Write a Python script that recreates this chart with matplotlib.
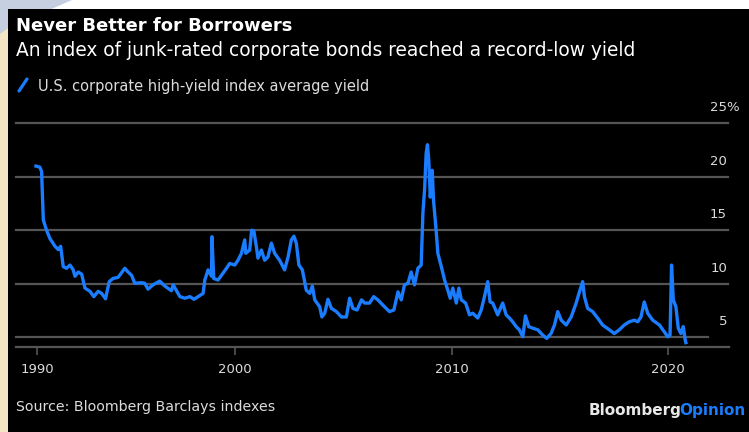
import matplotlib
matplotlib.use("Agg")
import matplotlib.pyplot as plt
from matplotlib.patches import Rectangle, Polygon

plt.rcParams['font.family'] = ['DejaVu Sans']

# ---- data ----
years = [1990.83, 1991.01, 1991.09, 1991.17, 1991.32, 1991.47, 1991.71, 1991.86, 1991.97,
         1992.09, 1992.24, 1992.40, 1992.55, 1992.63, 1992.78, 1992.94, 1993.09, 1993.32,
         1993.50, 1993.70, 1993.86, 1994.04, 1994.21, 1994.39, 1994.62, 1994.93, 1995.08,
         1995.24, 1995.39, 1995.71, 1995.85, 1996.00, 1996.23, 1996.54, 1996.77, 1997.08,
         1997.16, 1997.47, 1997.70, 1997.93, 1998.12, 1998.31, 1998.54, 1998.62, 1998.77,
         1998.93, 1998.95, 1999.03, 1999.23, 1999.39, 1999.62, 1999.77, 2000.00, 2000.15,
         2000.31, 2000.46, 2000.51, 2000.69, 2000.78, 2000.88, 2001.00, 2001.07, 2001.23,
         2001.38, 2001.53, 2001.69, 2001.84, 2002.07, 2002.30, 2002.46, 2002.61, 2002.73,
         2002.84, 2002.96, 2003.12, 2003.30, 2003.46, 2003.58, 2003.69, 2003.92, 2004.02,
         2004.15, 2004.30, 2004.46, 2004.69, 2004.92, 2005.15, 2005.30, 2005.45, 2005.64,
         2005.85, 2005.99, 2006.22, 2006.41, 2006.60, 2006.91, 2007.14, 2007.34, 2007.53,
         2007.68, 2007.83, 2007.99, 2008.14, 2008.29, 2008.45, 2008.60, 2008.68, 2008.76,
         2008.83, 2008.89, 2008.95, 2009.02, 2009.11, 2009.17, 2009.29, 2009.37, 2009.53,
         2009.68, 2009.83, 2009.94, 2010.06, 2010.22, 2010.34, 2010.45, 2010.65, 2010.83,
         2010.98, 2011.21, 2011.37, 2011.52, 2011.67, 2011.78, 2011.90, 2012.13, 2012.36,
         2012.52, 2012.67, 2012.82, 2012.98, 2013.13, 2013.29, 2013.41, 2013.56, 2013.75,
         2013.98, 2014.21, 2014.39, 2014.59, 2014.75, 2014.90, 2015.06, 2015.29, 2015.52,
         2015.75, 2015.90, 2016.05, 2016.13, 2016.28, 2016.51, 2016.74, 2016.97, 2017.28,
         2017.51, 2017.74, 2017.97, 2018.20, 2018.43, 2018.59, 2018.74, 2018.89, 2019.05,
         2019.28, 2019.59, 2019.82, 2019.97, 2020.08, 2020.15, 2020.23, 2020.35, 2020.46,
         2020.58, 2020.69, 2020.78, 2020.81]
yields = [21.0, 20.9, 20.5, 15.96, 15.0, 14.25, 13.5, 13.2, 13.5,
          11.6, 11.45, 11.75, 11.3, 10.7, 11.1, 10.9, 9.6, 9.3,
          8.8, 9.3, 9.1, 8.6, 10.2, 10.5, 10.6, 11.45, 11.1,
          10.8, 10.05, 10.1, 10.05, 9.5, 9.9, 10.25, 9.8, 9.35,
          9.9, 8.8, 8.65, 8.8, 8.55, 8.8, 9.1, 10.35, 11.3,
          10.7, 14.4, 10.5, 10.35, 10.8, 11.45, 11.9, 11.75, 12.2,
          12.85, 14.1, 12.85, 13.15, 15.0, 14.95, 13.45, 12.4, 13.15,
          12.2, 12.5, 13.8, 12.85, 12.2, 11.3, 12.5, 14.1, 14.45,
          13.8, 11.75, 11.3, 9.4, 9.1, 9.8, 8.5, 7.85, 6.9,
          7.25, 8.55, 7.7, 7.4, 6.9, 6.9, 8.65, 7.7, 7.55,
          8.5, 8.2, 8.2, 8.8, 8.5, 7.85, 7.4, 7.55, 9.25,
          8.5, 9.9, 10.05, 11.1, 9.9, 11.45, 11.75, 16.6, 18.9,
          22.2, 23.0, 21.6, 18.1, 20.6, 17.8, 15.0, 12.85, 11.6,
          10.35, 9.4, 8.65, 9.6, 8.2, 9.6, 8.5, 8.2, 7.1,
          7.25, 6.8, 7.55, 8.8, 10.2, 8.3, 8.2, 7.1, 8.2,
          7.1, 6.8, 6.45, 6.0, 5.7, 5.05, 7.0, 6.0, 5.85,
          5.7, 5.2, 4.9, 5.35, 6.15, 7.4, 6.6, 6.15, 6.9,
          8.2, 9.25, 10.2, 8.8, 7.7, 7.4, 6.8, 6.15, 5.7,
          5.35, 5.7, 6.15, 6.45, 6.6, 6.45, 6.9, 8.3, 7.25,
          6.6, 6.15, 5.5, 5.05, 5.2, 11.75, 8.5, 7.85, 5.85,
          5.35, 6.0, 4.75, 4.5]

y_ticks = [5, 10, 15, 20, 25]
x_tick_pos = [1990.88, 2000, 2010, 2020]
x_tick_labels = ['1990', '2000', '2010', '2020']

title = "Never Better for Borrowers"
subtitle = "An index of junk-rated corporate bonds reached a record-low yield"
legend_label = "U.S. corporate high-yield index average yield"
source = "Source: Bloomberg Barclays indexes"

BLUE = '#1a7cff'
GRID = '#555555'
TXT = '#dcdcdc'

W, H = 749, 432
fig = plt.figure(figsize=(W / 100, H / 100), dpi=100)
fig.patch.set_facecolor('white')

def fx(px):
    return px / W

def fy(py):
    return 1 - py / H

# surrounding frame bits
fig.patches.append(Rectangle((0, 0), fx(8), fy(9), transform=fig.transFigure,
                             facecolor='#f3e6c4', edgecolor='none', zorder=-10))
fig.patches.append(Polygon([(0, 1), (fx(72), 1), (fx(8), fy(28)), (0, fy(34))],
                           closed=True, transform=fig.transFigure,
                           facecolor='#c6cfdf', edgecolor='none', zorder=-10))
fig.patches.append(Rectangle((fx(8), 0), 1 - fx(8), fy(9), transform=fig.transFigure,
                             facecolor='black', edgecolor='none', zorder=-10))

# axes
left_px, right_px, top_px, bot_px = 16, 729, 123.3, 346.7
ax = fig.add_axes([fx(left_px), fy(bot_px), fx(right_px - left_px), (bot_px - top_px) / H])
ax.set_zorder(2)
ax.set_facecolor('none')
ax.set_xlim(1989.91, 2022.80)
ax.set_ylim(4.12, 25.0)

for s in ['top', 'right', 'left']:
    ax.spines[s].set_visible(False)
ax.spines['bottom'].set_color(GRID)
ax.spines['bottom'].set_linewidth(1.6)

for v in y_ticks:
    xmax = 0.97 if v == 5 else 0.999
    ax.axhline(v, xmin=0, xmax=xmax, color=GRID, lw=1.6, zorder=1, clip_on=False)

ax.plot(years, yields, color=BLUE, lw=2.4, zorder=3, solid_joinstyle='round')

ax.set_yticks([])
ax.set_xticks(x_tick_pos)
ax.set_xticklabels(x_tick_labels, color=TXT, fontsize=9.5)
ax.tick_params(axis='x', colors=GRID, length=6, width=1.2, pad=6, labelcolor=TXT)

# y labels (right side, above lines)
for v in y_ticks:
    yy = ax.transData.transform((0, v))[1]
    ypx = H - yy
    fig.text(fx(727), fy(ypx - 15.5), str(v), ha='right', va='center',
             color=TXT, fontsize=9.5)
    if v == y_ticks[-1]:
        fig.text(fx(726), fy(ypx - 15.5), '%', ha='left', va='center',
                 color=TXT, fontsize=9.5)

# titles
fig.text(fx(16), fy(31), title, ha='left', va='baseline', color='white',
         fontsize=13.0, fontweight='bold')
fig.text(fx(16), fy(55.5), subtitle, ha='left', va='baseline', color='white',
         fontsize=13.4)

# legend
fig.lines.append(plt.Line2D([fx(19), fx(27)], [fy(91), fy(79)], transform=fig.transFigure,
                            color=BLUE, lw=2.3, solid_capstyle='round'))
fig.text(fx(38), fy(90.5), legend_label, ha='left', va='baseline', color=TXT, fontsize=10.5)

# source + logo
fig.text(fx(16), fy(407), source, ha='left', va='center', color=TXT, fontsize=10.2)
t2 = fig.text(fx(745), fy(411), 'Opinion', ha='right', va='center', color=BLUE,
              fontsize=11, fontweight='bold')
fig.canvas.draw()
bb = t2.get_window_extent()
fig.text((bb.x0 + 3) / W, fy(411), 'Bloomberg', ha='right', va='center', color='#e8e8e8',
         fontsize=11, fontweight='bold')

fig.savefig('out.png', dpi=100, facecolor=fig.get_facecolor())
